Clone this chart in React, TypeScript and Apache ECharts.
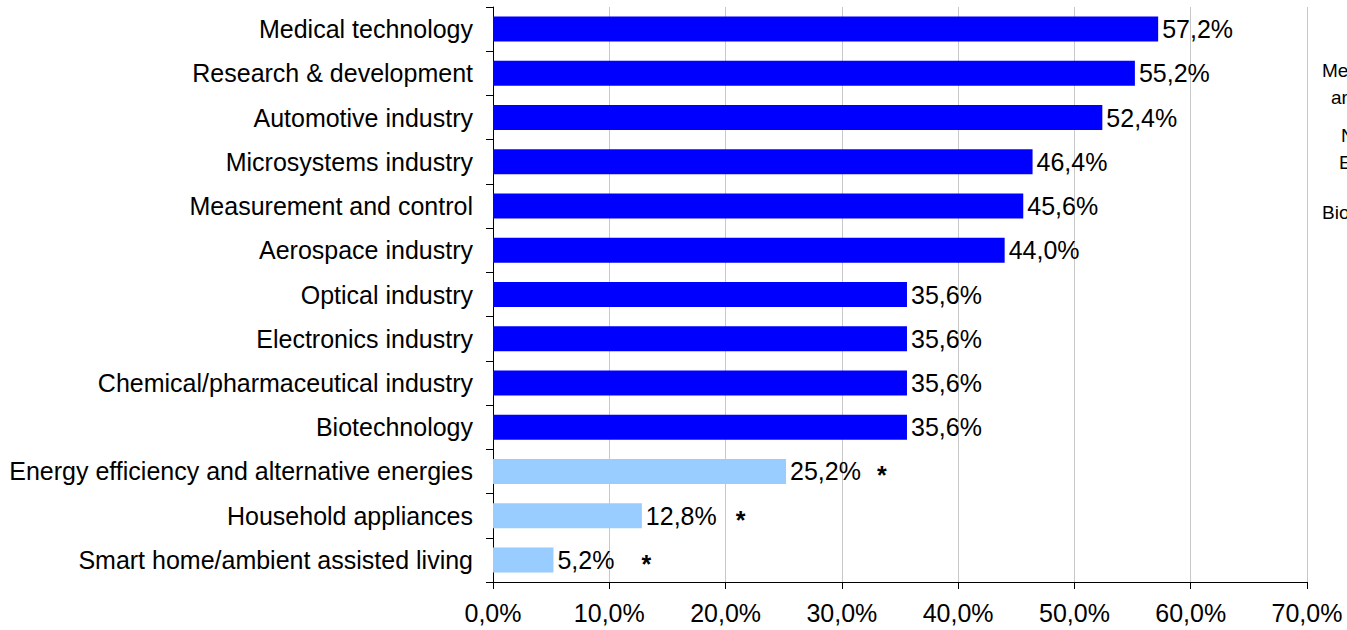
import React, { useEffect, useRef } from "react";
import * as echarts from "echarts";

const categories = [
  "Medical technology",
  "Research & development",
  "Automotive industry",
  "Microsystems industry",
  "Measurement and control",
  "Aerospace industry",
  "Optical industry",
  "Electronics industry",
  "Chemical/pharmaceutical industry",
  "Biotechnology",
  "Energy efficiency and alternative energies",
  "Household appliances",
  "Smart home/ambient assisted living",
];
const values = [57.2, 55.2, 52.4, 46.4, 45.6, 44.0, 35.6, 35.6, 35.6, 35.6, 25.2, 12.8, 5.2];
const starred = [false, false, false, false, false, false, false, false, false, false, true, true, true];
const starGaps = [0, 0, 0, 0, 0, 0, 0, 0, 0, 0, 16, 19, 27];
const xTicks = { min: 0, max: 70, interval: 10 };
const sideTexts = [
  { t: "Me", x: 1322, y: 70 },
  { t: "ar", x: 1331, y: 97 },
  { t: "N", x: 1341, y: 135 },
  { t: "E", x: 1339, y: 162 },
  { t: "Bio", x: 1322, y: 212 },
];

const DARK = "#0000FF";
const LIGHT = "#99CCFF";
const FONT = "Liberation Sans, Arial, sans-serif";
const FS = 25;

const fmt = (v: number) => v.toFixed(1).replace(".", ",") + "%";

export default function App() {
  const ref = useRef<HTMLDivElement>(null);
  useEffect(() => {
    if (!ref.current) return;
    const chart = echarts.init(ref.current, null, { renderer: "svg" });
    chart.setOption({
      animation: false,
      textStyle: { fontFamily: FONT },
      grid: { left: 493, right: 40, top: 7, bottom: 48, containLabel: false },
      xAxis: {
        type: "value",
        min: xTicks.min,
        max: xTicks.max,
        interval: xTicks.interval,
        axisLine: { show: true, lineStyle: { color: "#000", width: 1 } },
        axisTick: { show: true, length: 7, lineStyle: { color: "#000" } },
        axisLabel: {
          formatter: (v: number) => fmt(v),
          color: "#000",
          fontSize: FS,
          fontFamily: FONT,
          margin: 18,
        },
        splitLine: { show: true, lineStyle: { color: "#c8c8c8", width: 1 } },
      },
      yAxis: {
        type: "category",
        data: categories,
        inverse: true,
        axisLine: { show: true, lineStyle: { color: "#000", width: 1 } },
        axisTick: { show: true, length: 7, lineStyle: { color: "#000" } },
        axisLabel: {
          color: "#000",
          fontSize: FS,
          fontFamily: FONT,
          margin: 20,
        },
      },
      series: [
        {
          type: "bar",
          barWidth: 25,
          data: values.map((v, i) => ({
            value: v,
            itemStyle: { color: starred[i] ? LIGHT : DARK },
            label: {
              formatter: starred[i] ? "{a|" + fmt(v) + "}{s|*}" : "{a|" + fmt(v) + "}",
              rich: {
                a: { fontSize: FS, fontFamily: FONT, color: "#000" },
                s: {
                  fontSize: FS,
                  fontFamily: FONT,
                  fontWeight: "bold",
                  color: "#000",
                  padding: [8, 0, 0, starGaps[i]],
                },
              },
            },
          })),
          label: {
            show: true,
            position: "right",
            distance: 4,
            color: "#000",
            fontSize: FS,
            fontFamily: FONT,
          },
        },
      ],
      graphic: sideTexts.map((s) => ({
        type: "text",
        x: s.x,
        y: s.y,
        style: {
          text: s.t,
          fontSize: 19,
          fontFamily: FONT,
          fill: "#000",
          verticalAlign: "middle",
        },
      })),
    });
    return () => chart.dispose();
  }, []);
  return (
    <div
      ref={ref}
      style={{ position: "fixed", left: 0, top: 0, width: 1347, height: 630, background: "#fff" }}
    />
  );
}
